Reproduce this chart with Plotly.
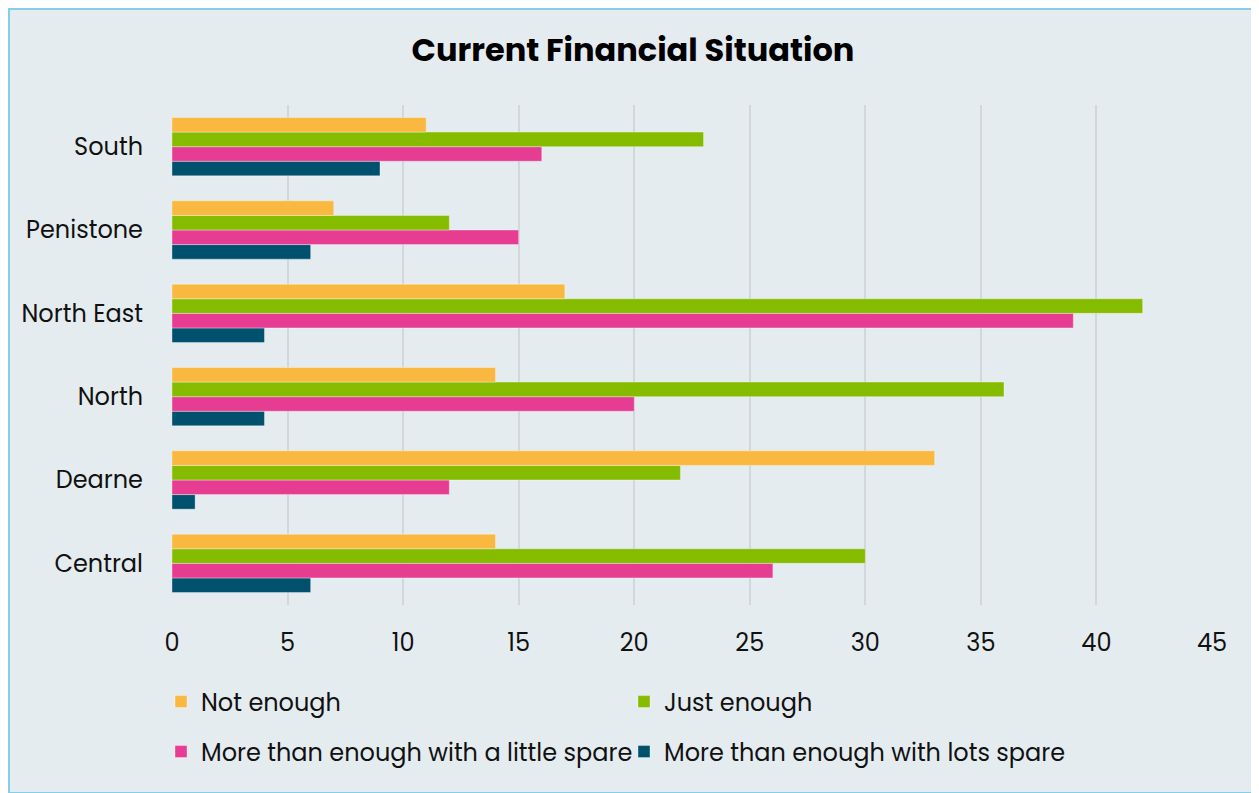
import plotly.graph_objects as go

categories = ["Central", "Dearne", "North", "North East", "Penistone", "South"]
not_enough = [14, 33, 14, 17, 7, 11]
just_enough = [30, 22, 36, 42, 12, 23]
little_spare = [26, 12, 20, 39, 15, 16]
lots_spare = [6, 1, 4, 4, 6, 9]

series = [
    ("More than enough with lots spare", lots_spare, "#00516D", "legend2", 2),
    ("More than enough with a little spare", little_spare, "#E63D93", "legend2", 1),
    ("Just enough", just_enough, "#85BC00", "legend", 2),
    ("Not enough", not_enough, "#F9B840", "legend", 1),
]

FONT = "Poppins, Inter, sans-serif"
fig = go.Figure()
for name, vals, color, leg, rank in series:
    fig.add_trace(go.Bar(
        y=categories, x=vals, name=name, orientation="h",
        marker=dict(color=color, line=dict(color="rgba(255,255,255,0.35)", width=1)),
        legend=leg, legendrank=rank,
    ))

W, H = 1250, 786
ml, mr, mt, mb = 164, 46, 97, 189
pw, ph = W - ml - mr, H - mt - mb

leg_common = dict(orientation="h", x=-11 / pw, xanchor="left", yanchor="middle",
                  entrywidth=418, entrywidthmode="pixels", font=dict(size=24),
                  bgcolor="rgba(0,0,0,0)", itemwidth=30, traceorder="normal")

fig.update_layout(
    width=W, height=H,
    margin=dict(l=ml, r=mr, t=mt, b=mb),
    paper_bgcolor="#E5ECF0", plot_bgcolor="#E5ECF0",
    barmode="group", bargap=0.3, bargroupgap=0,
    font=dict(family=FONT, color="#111111"),
    title=dict(text="<b>Current Financial Situation</b>", x=0.5, xanchor="center",
               y=1 - 42 / H, yanchor="middle", font=dict(size=32, family=FONT, color="#000000")),
    xaxis=dict(range=[0, 45], dtick=5, showgrid=True, gridcolor="#D3D7DA", gridwidth=2,
               zeroline=False, showline=False, tickfont=dict(size=24), ticklabelstandoff=21),
    yaxis=dict(showgrid=False, zeroline=False, showline=False, tickfont=dict(size=24),
               ticklabelstandoff=28),
    legend=dict(y=-97 / ph, **leg_common),
    legend2=dict(y=-147 / ph, **leg_common),
    showlegend=True,
)

fig.add_shape(type="rect", xref="paper", yref="paper",
              x0=-(ml - 1) / pw, x1=1 + (mr - 1) / pw,
              y0=-(mb - 1) / ph, y1=1 + (mt - 1) / ph,
              line=dict(color="#86CDEA", width=2), fillcolor="rgba(0,0,0,0)", layer="below")

fig.write_html("out.html")
